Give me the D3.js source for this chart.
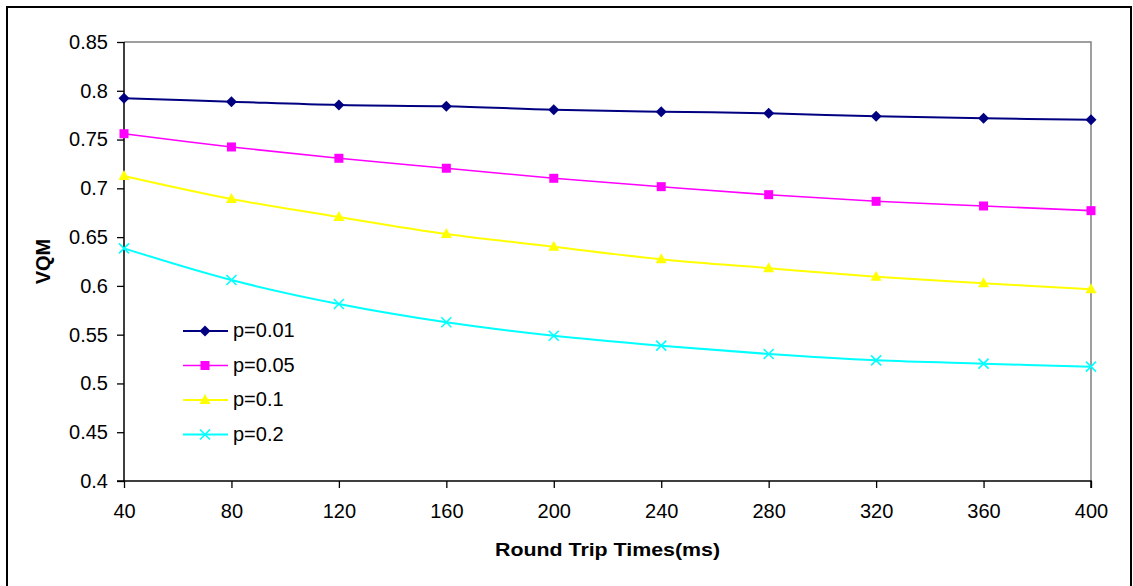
<!DOCTYPE html>
<html>
<head>
<meta charset="utf-8">
<script src="https://cdn.jsdelivr.net/npm/d3@7"></script>
<style>
  html, body { margin: 0; padding: 0; background: #fff; }
  svg { display: block; font-family: "Liberation Sans", Arial, sans-serif; }
</style>
</head>
<body>
<svg id="chart" width="1133" height="586"></svg>
<script>
const categories = [40, 80, 120, 160, 200, 240, 280, 320, 360, 400];
const seriesNames = ["p=0.01", "p=0.05", "p=0.1", "p=0.2"];
const p001 = [0.7923, 0.7888, 0.7854, 0.7841, 0.7806, 0.7786, 0.7769, 0.7738, 0.7718, 0.7704];
const p005 = [0.7560, 0.7424, 0.7308, 0.7206, 0.7103, 0.7017, 0.6935, 0.6867, 0.6819, 0.6771];
const p01  = [0.7127, 0.6891, 0.6706, 0.6532, 0.6402, 0.6273, 0.6181, 0.6094, 0.6027, 0.5965];
const p02  = [0.6385, 0.6060, 0.5814, 0.5627, 0.5489, 0.5387, 0.5302, 0.5237, 0.5203, 0.5172];
const yTicks = [0.4, 0.45, 0.5, 0.55, 0.6, 0.65, 0.7, 0.75, 0.8, 0.85];
const xTitle = "Round Trip Times(ms)";
const yTitle = "VQM";

const seriesValues = [p001, p005, p01, p02];
const colors = ["#000080", "#FF00FF", "#FFFF00", "#00FFFF"];
const markers = ["diamond", "square", "triangle", "x"];

const svg = d3.select("#chart");
const pL = 124, pR = 1091, pT = 42, pB = 481;

// outer frame
svg.append("rect").attr("x", 7).attr("y", 7).attr("width", 1124).attr("height", 600)
  .attr("fill", "none").attr("stroke", "#000").attr("stroke-width", 2);

const x = d3.scalePoint().domain(categories).range([pL, pR]).padding(0);
const y = d3.scaleLinear().domain([0.4, 0.85]).range([pB, pT]);

// plot area border (top & right, gray)
svg.append("path")
  .attr("d", `M${pL},${pT}H${pR}V${pB}`)
  .attr("fill", "none").attr("stroke", "#808080").attr("stroke-width", 1.5);

const fontSize = 20;
const yAxis = svg.append("g").attr("transform", `translate(${pL},0)`)
  .call(d3.axisLeft(y).tickValues(yTicks).tickSize(7).tickPadding(9)
    .tickFormat(d => String(+d.toFixed(2))));
const xAxis = svg.append("g").attr("transform", `translate(0,${pB})`)
  .call(d3.axisBottom(x).tickSize(7).tickPadding(16));
[yAxis, xAxis].forEach(g => {
  g.selectAll("text").attr("font-size", fontSize).attr("fill", "#000")
    .attr("font-family", "'Liberation Sans', Arial, sans-serif");
  g.selectAll("line").attr("stroke", "#000").attr("stroke-width", 1.3);
  g.select(".domain").attr("stroke", "#000").attr("stroke-width", 1.5);
});
yAxis.select(".domain").attr("d", `M0,${pT}V${pB}M-7,${pB}H0`);
xAxis.select(".domain").attr("d", `M${pL},0H${pR}V7`);

// titles
svg.append("text").attr("x", (pL + pR) / 2).attr("y", 556)
  .attr("text-anchor", "middle").attr("font-weight", "bold").attr("font-size", 19)
  .attr("textLength", 225).attr("lengthAdjust", "spacingAndGlyphs")
  .text(xTitle);
svg.append("text").attr("transform", `translate(50,${(pT + pB) / 2}) rotate(-90)`)
  .attr("text-anchor", "middle").attr("font-weight", "bold").attr("font-size", 20)
  .text(yTitle);

const line = d3.line().x((d, i) => x(categories[i])).y(d => y(d))
  .curve(d3.curveCatmullRom.alpha(0.5));

function drawMarker(g, type, color, cx, cy) {
  if (type === "diamond") {
    g.append("path").attr("d", `M${cx},${cy - 5.5}L${cx + 5.5},${cy}L${cx},${cy + 5.5}L${cx - 5.5},${cy}Z`)
      .attr("fill", color);
  } else if (type === "square") {
    g.append("rect").attr("x", cx - 4.5).attr("y", cy - 4.5).attr("width", 9).attr("height", 9)
      .attr("fill", color);
  } else if (type === "triangle") {
    g.append("path").attr("d", `M${cx},${cy - 6}L${cx + 5.5},${cy + 4}L${cx - 5.5},${cy + 4}Z`)
      .attr("fill", color);
  } else {
    g.append("path").attr("d", `M${cx - 5},${cy - 5}L${cx + 5},${cy + 5}M${cx - 5},${cy + 5}L${cx + 5},${cy - 5}`)
      .attr("stroke", color).attr("stroke-width", 1.6).attr("fill", "none");
  }
}

const widths = [2, 1.6, 2, 2];
seriesValues.forEach((vals, si) => {
  const g = svg.append("g");
  g.append("path").datum(vals).attr("d", line).attr("fill", "none")
    .attr("stroke", colors[si]).attr("stroke-width", widths[si]);
  vals.forEach((v, i) => drawMarker(g, markers[si], colors[si], x(categories[i]), y(v)));
});

// legend
const legendX = 183, legendY0 = 331, legendStep = 34.5;
seriesNames.forEach((name, si) => {
  const ly = legendY0 + si * legendStep;
  const g = svg.append("g");
  g.append("line").attr("x1", legendX).attr("x2", legendX + 45).attr("y1", ly).attr("y2", ly)
    .attr("stroke", colors[si]).attr("stroke-width", widths[si]);
  drawMarker(g, markers[si], colors[si], legendX + 22, ly);
  g.append("text").attr("x", legendX + 50).attr("y", ly).attr("dy", "0.32em")
    .attr("font-size", fontSize).text(name);
});
</script>
</body>
</html>
